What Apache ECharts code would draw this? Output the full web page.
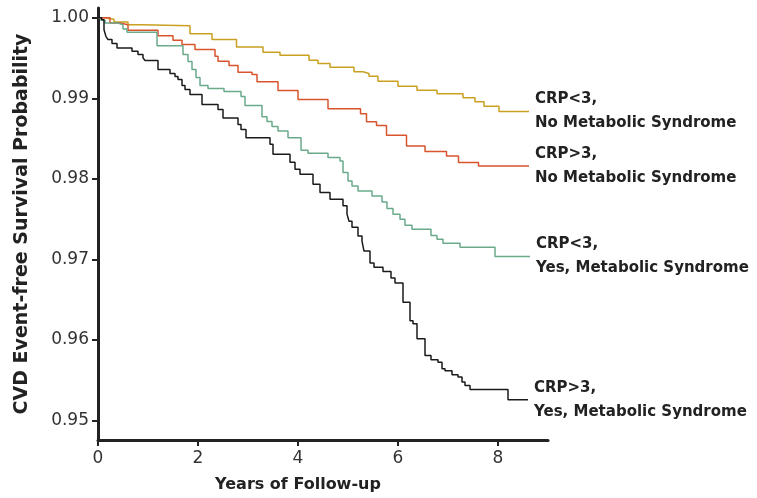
<!DOCTYPE html>
<html>
<head>
<meta charset="utf-8">
<script src="https://cdn.jsdelivr.net/npm/echarts@6/dist/echarts.min.js"></script>
<style>html,body{margin:0;padding:0;background:#fff;}#chart{width:757px;height:498px;}</style>
</head>
<body>
<div id="chart"></div>
<script>
// Kaplan-Meier step data: time (years) and survival probability after each event
const lowCrpNoMetsT = [0, 0.12, 0.32, 0.6, 0.88, 1.84, 2.28, 2.77, 3.3, 3.64, 4.22, 4.4, 4.64, 5.12, 5.3, 5.42, 5.6, 6.0, 6.38, 6.78, 7.3, 7.54, 7.72, 8.02, 8.62];
const lowCrpNoMetsS = [1.0, 0.9998, 0.99945, 0.99913, 0.99901, 0.99802, 0.99728, 0.99637, 0.99571, 0.99533, 0.99472, 0.99431, 0.99385, 0.99328, 0.99307, 0.99274, 0.99212, 0.9915, 0.991, 0.99056, 0.99006, 0.98957, 0.98902, 0.98837, 0.98837];

const highCrpNoMetsT = [0, 0.24, 0.44, 0.6, 1.2, 1.5, 1.68, 1.94, 2.34, 2.4, 2.62, 2.8, 3.08, 3.18, 3.6, 4.0, 4.6, 5.25, 5.37, 5.57, 5.77, 6.17, 6.54, 6.97, 7.21, 7.61, 8.62];
const highCrpNoMetsS = [1.0, 0.99934, 0.99913, 0.99843, 0.99777, 0.99719, 0.99666, 0.99604, 0.99521, 0.99459, 0.99406, 0.99323, 0.99295, 0.99204, 0.99097, 0.98985, 0.9887, 0.98808, 0.98709, 0.98663, 0.9854, 0.98407, 0.98338, 0.98283, 0.98202, 0.9816, 0.9816];

const lowCrpMetsT = [0, 0.06, 0.14, 0.4, 0.5, 0.58, 1.18, 1.7, 1.8, 1.88, 1.96, 2.04, 2.2, 2.52, 2.86, 2.94, 3.28, 3.38, 3.48, 3.6, 3.8, 4.06, 4.2, 4.6, 4.84, 4.9, 5.0, 5.08, 5.2, 5.48, 5.68, 5.78, 5.9, 6.04, 6.14, 6.28, 6.66, 6.78, 6.9, 7.24, 7.94, 8.64];
const lowCrpMetsS = [1.0, 0.99967, 0.99934, 0.99913, 0.9986, 0.99818, 0.99651, 0.99542, 0.99455, 0.99356, 0.99257, 0.99158, 0.99121, 0.99084, 0.99022, 0.98911, 0.98771, 0.98713, 0.98651, 0.98593, 0.98511, 0.98354, 0.98317, 0.98264, 0.98222, 0.98078, 0.97974, 0.97912, 0.9785, 0.97788, 0.97714, 0.97632, 0.97562, 0.975, 0.97426, 0.97376, 0.97297, 0.97252, 0.972, 0.9715, 0.97038, 0.97038];

const highCrpMetsT = [0, 0.074, 0.12, 0.16, 0.2, 0.28, 0.38, 0.68, 0.8, 0.9, 0.94, 1.2, 1.44, 1.54, 1.6, 1.68, 1.74, 1.84, 2.08, 2.4, 2.5, 2.8, 2.86, 2.96, 3.44, 3.5, 3.84, 3.94, 4.04, 4.3, 4.44, 4.64, 4.9, 4.98, 5.02, 5.08, 5.2, 5.28, 5.32, 5.44, 5.52, 5.7, 5.86, 5.94, 6.1, 6.24, 6.3, 6.38, 6.54, 6.66, 6.8, 6.88, 6.94, 7.08, 7.2, 7.28, 7.34, 7.44, 8.2, 8.6];
const highCrpMetsS = [1.0, 0.99975, 0.99851, 0.99765, 0.99728, 0.99678, 0.99625, 0.99583, 0.99542, 0.99501, 0.99468, 0.99356, 0.99307, 0.9927, 0.99233, 0.99158, 0.99109, 0.99047, 0.98923, 0.98861, 0.98756, 0.98676, 0.98614, 0.98511, 0.98428, 0.98304, 0.98205, 0.98119, 0.98057, 0.97933, 0.9783, 0.97748, 0.97665, 0.97562, 0.97475, 0.97401, 0.9729, 0.97228, 0.97104, 0.96955, 0.96902, 0.9685, 0.9677, 0.96708, 0.96469, 0.96241, 0.96201, 0.96015, 0.95808, 0.95755, 0.95726, 0.95644, 0.95619, 0.9557, 0.95541, 0.95479, 0.95437, 0.95387, 0.9526, 0.9526];

const xTicks = [0, 2, 4, 6, 8];
const yTicks = [0.95, 0.96, 0.97, 0.98, 0.99, 1.00];

const groups = [
  { name: 'CRP<3,\nNo Metabolic Syndrome', t: lowCrpNoMetsT, s: lowCrpNoMetsS, color: '#c9a020' },
  { name: 'CRP>3,\nNo Metabolic Syndrome', t: highCrpNoMetsT, s: highCrpNoMetsS, color: '#d9542c' },
  { name: 'CRP<3,\nYes, Metabolic Syndrome', t: lowCrpMetsT, s: lowCrpMetsS, color: '#6aaa8a' },
  { name: 'CRP>3,\nYes, Metabolic Syndrome', t: highCrpMetsT, s: highCrpMetsS, color: '#1a1a1a' }
];

const FONT = '"DejaVu Sans", sans-serif';
const chart = echarts.init(document.getElementById('chart'), null, { renderer: 'canvas' });

chart.setOption({
  animation: false,
  backgroundColor: '#ffffff',
  grid: { left: 98, right: 209, top: 8, bottom: 57, containLabel: false },
  xAxis: {
    type: 'value', min: 0, max: 9,
    name: 'Years of Follow-up', nameLocation: 'middle', nameGap: 37,
    nameTextStyle: { fontFamily: FONT, fontSize: 16, fontWeight: 'bold', color: '#222', padding: [0, 50, 0, 0] },
    axisLine: { show: true, onZero: false, lineStyle: { color: '#222', width: 3 } },
    axisTick: { show: true, customValues: xTicks, length: 6, inside: false, lineStyle: { color: '#222', width: 2 } },
    axisLabel: { customValues: xTicks, fontFamily: FONT, fontSize: 17, color: '#333', margin: 10 },
    splitLine: { show: false }
  },
  yAxis: {
    type: 'value', min: 0.9476, max: 1.0012,
    name: 'CVD Event-free Survival Probability', nameLocation: 'middle', nameGap: 66,
    nameTextStyle: { fontFamily: FONT, fontSize: 19, fontWeight: 'bold', color: '#222' },
    axisLine: { show: true, onZero: false, lineStyle: { color: '#222', width: 3 } },
    axisTick: { show: true, customValues: yTicks, length: 6, lineStyle: { color: '#222', width: 2 } },
    axisLabel: { customValues: yTicks, fontFamily: FONT, fontSize: 17, color: '#333', margin: 9,
      formatter: v => v.toFixed(2) },
    splitLine: { show: false }
  },
  series: groups.map(g => ({
    name: g.name,
    type: 'line',
    step: 'end',
    showSymbol: false,
    symbol: 'none',
    data: g.t.map((t, i) => [t, g.s[i]]),
    lineStyle: { color: g.color, width: 1.5 },
    itemStyle: { color: g.color },
    endLabel: {
      show: true, distance: 6,
      formatter: p => p.seriesName,
      fontFamily: FONT, fontSize: 15, fontWeight: 'bold', color: '#222', lineHeight: 24
    },
    emphasis: { disabled: true }
  }))
});
</script>
</body>
</html>
